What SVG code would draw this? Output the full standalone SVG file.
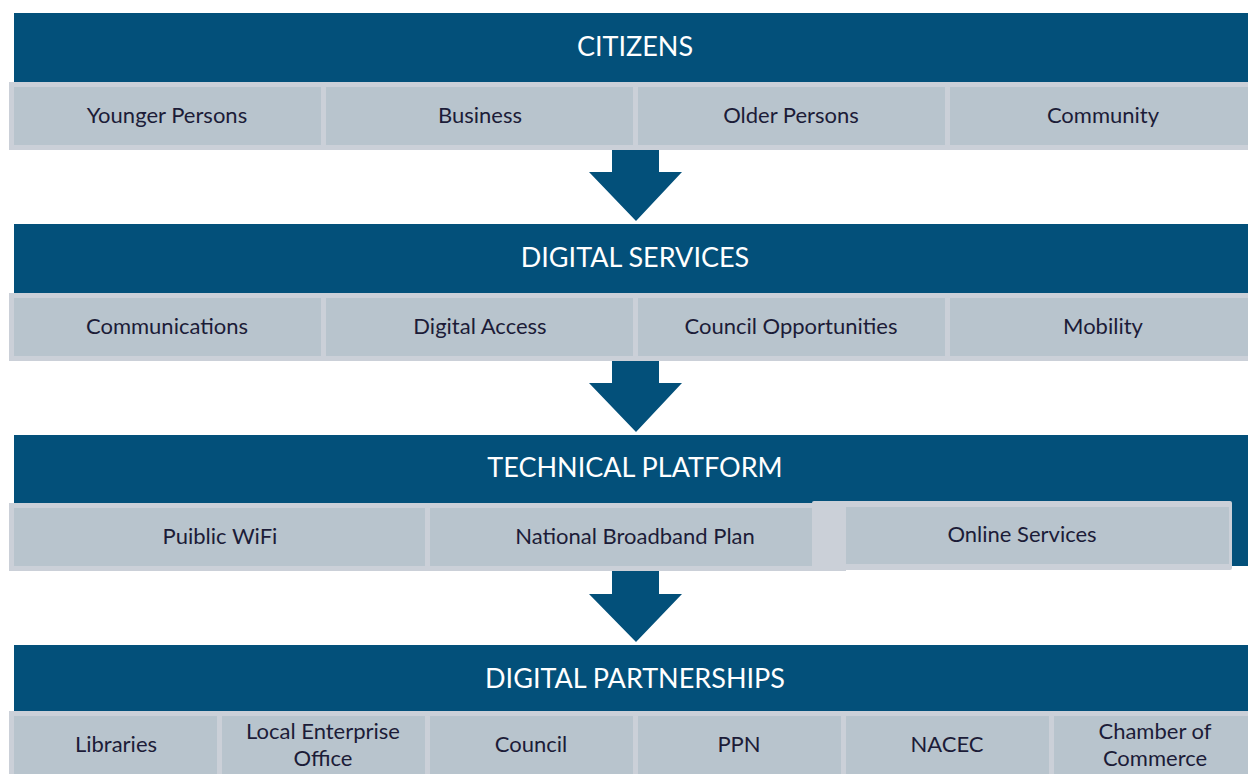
<svg xmlns="http://www.w3.org/2000/svg" width="1248" height="774" viewBox="0 0 1248 774">
  <style>
    .bar { fill: #03507a; }
    .cell { fill: #b8c4cd; stroke: #cbd0d8; stroke-width: 5; }
    .edge { fill: #cbd0d8; }
    .flow { fill: #03507a; }
    .title { font-family: Lato, "Open Sans", sans-serif; font-size: 27px; fill: #ffffff; text-anchor: middle; }
    .label { font-family: Lato, "Open Sans", sans-serif; font-size: 22px; fill: #1c1c38; text-anchor: middle; }
  </style>
  <rect width="1248" height="774" fill="#ffffff"/>

  <!-- layer bars -->
  <g id="bar-citizens">
    <rect class="bar" x="14" y="13" width="1234" height="70"/>
    <text class="title" x="635" y="56">CITIZENS</text>
  </g>
  <g id="bar-digital-services">
    <rect class="bar" x="14" y="224" width="1234" height="70"/>
    <text class="title" x="635" y="267">DIGITAL SERVICES</text>
  </g>
  <g id="bar-technical-platform">
    <rect class="bar" x="14" y="435" width="1234" height="131"/>
    <text class="title" x="635" y="477">TECHNICAL PLATFORM</text>
  </g>
  <g id="bar-digital-partnerships">
    <rect class="bar" x="14" y="645" width="1234" height="68"/>
    <text class="title" x="635" y="688">DIGITAL PARTNERSHIPS</text>
  </g>

  <!-- connectors between layers -->
  <g id="connectors">
    <polygon class="flow" points="612,146 659,146 659,172 682,172 636,221 589,172 612,172"/>
    <polygon class="flow" points="612,357 659,357 659,383 682,383 636,432 589,383 612,383"/>
    <polygon class="flow" points="612,568 659,568 659,594 682,594 636,642 589,594 612,594"/>
  </g>

  <!-- citizens -->
  <g id="younger-persons">
    <rect class="cell" x="11.5" y="84.5" width="312" height="63"/>
    <text class="label" x="167" y="123">Younger Persons</text>
  </g>
  <g id="business">
    <rect class="cell" x="323.5" y="84.5" width="312" height="63"/>
    <text class="label" x="480" y="123">Business</text>
  </g>
  <g id="older-persons">
    <rect class="cell" x="635.5" y="84.5" width="312" height="63"/>
    <text class="label" x="791" y="123">Older Persons</text>
  </g>
  <g id="community">
    <rect class="cell" x="947.5" y="84.5" width="312" height="63"/>
    <text class="label" x="1103" y="123">Community</text>
  </g>

  <!-- digital services -->
  <g id="communications">
    <rect class="cell" x="11.5" y="295.5" width="312" height="63"/>
    <text class="label" x="167" y="334">Communications</text>
  </g>
  <g id="digital-access">
    <rect class="cell" x="323.5" y="295.5" width="312" height="63"/>
    <text class="label" x="480" y="334">Digital Access</text>
  </g>
  <g id="council-opportunities">
    <rect class="cell" x="635.5" y="295.5" width="312" height="63"/>
    <text class="label" x="791" y="334">Council Opportunities</text>
  </g>
  <g id="mobility">
    <rect class="cell" x="947.5" y="295.5" width="312" height="63"/>
    <text class="label" x="1103" y="334">Mobility</text>
  </g>

  <!-- technical platform -->
  <g id="public-wifi">
    <rect class="cell" x="11.5" y="505.5" width="416" height="63"/>
    <text class="label" x="220" y="544">Puiblic WiFi</text>
  </g>
  <g id="national-broadband-plan">
    <rect class="cell" x="427.5" y="505.5" width="416" height="63"/>
    <text class="label" x="635" y="544">National Broadband Plan</text>
  </g>
  <g id="online-services">
    <rect class="edge" x="812" y="501" width="420" height="69" rx="2"/>
    <rect class="cell" x="846" y="507" width="383" height="57" style="stroke:none"/>
    <text class="label" x="1022" y="542">Online Services</text>
  </g>

  <!-- digital partnerships -->
  <g id="libraries">
    <rect class="cell" x="11.5" y="713.5" width="208" height="70"/>
    <text class="label" x="116" y="752">Libraries</text>
  </g>
  <g id="local-enterprise-office">
    <rect class="cell" x="219.5" y="713.5" width="208" height="70"/>
    <text class="label" x="323" y="739">Local Enterprise</text>
    <text class="label" x="323" y="766">Office</text>
  </g>
  <g id="council">
    <rect class="cell" x="427.5" y="713.5" width="208" height="70"/>
    <text class="label" x="531" y="752">Council</text>
  </g>
  <g id="ppn">
    <rect class="cell" x="635.5" y="713.5" width="208" height="70"/>
    <text class="label" x="739" y="752">PPN</text>
  </g>
  <g id="nacec">
    <rect class="cell" x="843.5" y="713.5" width="208" height="70"/>
    <text class="label" x="947" y="752">NACEC</text>
  </g>
  <g id="chamber-of-commerce">
    <rect class="cell" x="1051.5" y="713.5" width="208" height="70"/>
    <text class="label" x="1155" y="739">Chamber of</text>
    <text class="label" x="1155" y="766">Commerce</text>
  </g>
</svg>
